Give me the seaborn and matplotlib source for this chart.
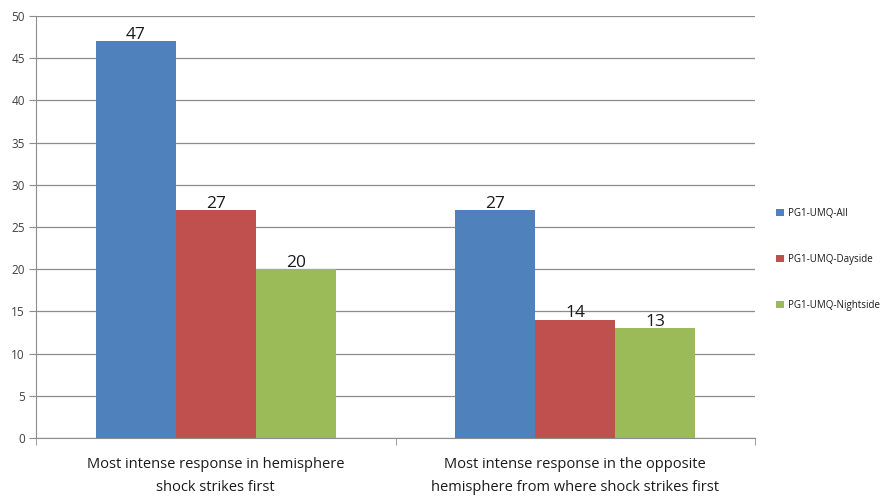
import pandas as pd
import seaborn as sns
import matplotlib.pyplot as plt
from matplotlib.patches import Patch

# data
categories = ['Most intense response in hemisphere\nshock strikes first',
              'Most intense response in the opposite\nhemisphere from where shock strikes first']
series = ['PG1-UMQ-All', 'PG1-UMQ-Dayside', 'PG1-UMQ-Nightside']
all_vals = [47, 27]
day_vals = [27, 14]
night_vals = [20, 13]
colors = ['#4F81BD', '#C0504D', '#9BBB59']

rows = []
for s, vals in zip(series, [all_vals, day_vals, night_vals]):
    for c, v in zip(categories, vals):
        rows.append({'category': c, 'series': s, 'count': v})
df = pd.DataFrame(rows)

sns.set_style('white')
plt.rcParams['font.family'] = ['Open Sans', 'DejaVu Sans']

fig = plt.figure(figsize=(8.87, 4.97), dpi=100)
ax = fig.add_axes([36 / 887, 1 - 438 / 497, (755 - 36) / 887, (438 - 16) / 497])

sns.barplot(data=df, x='category', y='count', hue='series', palette=colors,
            width=0.667, saturation=1, ax=ax, legend=False, linewidth=0)

for cont in ax.containers:
    ax.bar_label(cont, fontsize=12.5, padding=-1, color='#1a1a1a')

ax.set_ylim(0, 50)
ax.set_yticks(range(0, 51, 5))
ax.set_xlim(-0.5, 1.5)
ax.yaxis.grid(True, color='#8c8c8c', linewidth=0.9)
ax.set_axisbelow(True)
ax.set_xlabel('')
ax.set_ylabel('')

for side in ['top', 'right']:
    ax.spines[side].set_visible(False)
ax.spines['left'].set_color('#8c8c8c')
ax.spines['bottom'].set_color('#8c8c8c')

ax.tick_params(axis='y', which='both', left=True, length=5, color='#8c8c8c',
               labelsize=8.5, labelcolor='#404040', pad=3)
# category tick marks sit at the boundaries, labels at the centers
ax.set_xticks([-0.5, 0.5, 1.5], minor=True)
ax.tick_params(axis='x', which='minor', bottom=True, length=5, color='#8c8c8c')
ax.tick_params(axis='x', which='major', bottom=False, labelsize=10.5,
               labelcolor='#1a1a1a', pad=10)
for lbl in ax.get_xticklabels():
    lbl.set_linespacing(1.75)

handles = [Patch(facecolor=c, edgecolor='none') for c in colors]
fig.legend(handles, series, loc='upper left', bbox_to_anchor=(767 / 887, 1 - 199 / 497),
           frameon=False, fontsize=7, handlelength=0.8, handleheight=0.8,
           handletextpad=0.5, labelspacing=3.6, labelcolor='#1a1a1a')

fig.savefig('out.png', dpi=100)
